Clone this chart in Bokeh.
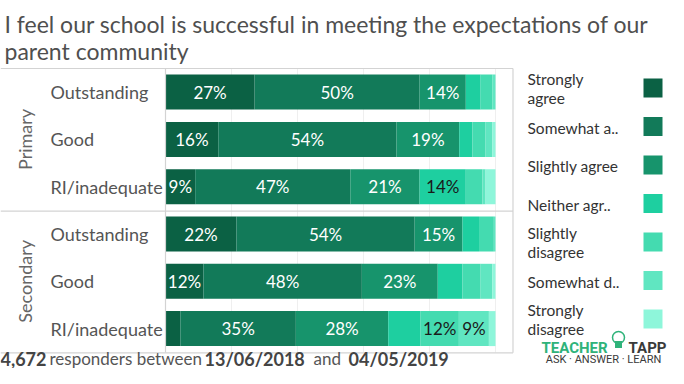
import numpy as np
from bokeh.plotting import figure
from bokeh.models import Range1d
from bokeh.core.properties import value
from bokeh.embed import file_html
from bokeh.resources import INLINE

# ---------------- data ----------------
title_lines = ["I feel our school is successful in meeting the expectations of our",
               "parent community"]
groups = ["Primary", "Secondary"]
ratings = ["Outstanding", "Good", "RI/inadequate"]
responses = ["Strongly agree", "Somewhat agree", "Slightly agree",
             "Neither agree nor disagree", "Slightly disagree",
             "Somewhat disagree", "Strongly disagree"]
legend_text = [["Strongly", "agree"], ["Somewhat a.."], ["Slightly agree"],
               ["Neither agr.."], ["Slightly", "disagree"], ["Somewhat d.."],
               ["Strongly", "disagree"]]

# rows: Primary Outstanding, Good, RI/inadequate, Secondary Outstanding, Good, RI/inadequate
strongly_agree    = [27.0, 16.0,  9.0, 21.5, 11.5,  4.5]
somewhat_agree    = [50.0, 54.0, 47.0, 54.0, 48.0, 35.0]
slightly_agree    = [14.0, 19.0, 21.0, 14.5, 23.0, 28.0]
neither           = [ 4.5,  4.0, 14.0,  5.0,  7.5,  9.8]
slightly_disagree = [ 3.5,  4.0,  5.0,  4.5,  5.5, 11.6]
somewhat_disagree = [ 1.0,  2.0,  1.0,  0.5,  3.5,  9.1]
strongly_disagree = [ 0.0,  1.0,  3.0,  0.0,  1.0,  2.0]
series = [strongly_agree, somewhat_agree, slightly_agree, neither,
          slightly_disagree, somewhat_disagree, strongly_disagree]

min_label = 9
hidden_labels = [(5, 3)]  # (row, response) labels the original dropped

grid_ticks = [20, 40, 60, 80, 100]

footer_parts = [("4,672", "bold"), ("responders between", "normal"),
                ("13/06/2018", "bold"), ("and", "normal"), ("04/05/2019", "bold")]

# ---------------- style ----------------
colors = ["#0b6144", "#127a59", "#17946c", "#1ecfa0", "#44dbb0", "#60e6c1", "#8ef6da"]
label_colors = ["#ffffff"] * 3 + ["#1a1a1a"] * 4
FONT = value("Lato")
LOGO_FONT = value("Roboto")

W, H = 668, 368
FX0, FXS = 165.0, 3.3    # screen x of 0%, px per %
RY0, RYS = 91.6, 47.3    # screen y of first row centre, px per row


def X(sx):
    return (sx - FX0) / FXS


def Y(sy):
    return (sy - RY0) / RYS


p = figure(width=W, height=H, output_backend="svg", toolbar_location=None,
           x_range=Range1d(X(0), X(W)), y_range=Range1d(Y(H), Y(0)),
           min_border=0)
p.axis.visible = False
p.grid.visible = False
p.outline_line_color = None
p.background_fill_color = "white"
p.border_fill_color = "white"

# light grid lines
p.segment(x0=grid_ticks, x1=grid_ticks, y0=[Y(68)] * len(grid_ticks),
          y1=[Y(352)] * len(grid_ticks), line_color="#efefef", line_width=1)

# stacked bars
n = len(strongly_agree)
rows_idx = np.arange(n)
left = np.zeros(n)
lab_x, lab_y, lab_t, lab_c = [], [], [], []
for k, vals in enumerate(series):
    vals = np.array(vals)
    right = left + vals
    p.hbar(y=rows_idx, left=left, right=right, height=35 / RYS,
           fill_color=colors[k], line_color=None)
    for r in range(n):
        if vals[r] >= min_label and (r, k) not in hidden_labels:
            lab_x.append((left[r] + right[r]) / 2)
            lab_y.append(r)
            lab_t.append(f"{int(vals[r] + 0.5)}%")
            lab_c.append(label_colors[k])
    left = right

p.text(x=lab_x, y=lab_y, text=lab_t, text_color=lab_c, text_font=FONT,
       text_font_size="17px", text_align="center", text_baseline="middle")

# frame lines
line_c = "#d3d3d3"
p.segment(x0=[X(0), X(0), X(0), X(165), X(512.5)],
          x1=[X(512.5), X(512.5), X(512.5), X(165), X(512.5)],
          y0=[Y(68), Y(210.7), Y(352.3), Y(68), Y(68)],
          y1=[Y(68), Y(210.7), Y(352.3), Y(352.3), Y(352.3)],
          line_color=line_c, line_width=1.2)

# row labels
row_names = ratings * len(groups)
p.text(x=[X(50)] * n, y=list(rows_idx), text=row_names, text_font=FONT,
       text_font_size="18px", text_color="#555555", text_align="left",
       text_baseline="middle")
# group labels
p.text(x=[X(24)] * 2, y=[1, 4], text=groups, text_font=FONT, text_font_size="18px",
       text_color="#666666", text_align="center", text_baseline="middle",
       angle=np.pi / 2)

# title
for i, t in enumerate(title_lines):
    p.text(x=[X(4)], y=[Y(23 + 27 * i)], text=[t], text_font=FONT,
           text_font_size="23px", text_color="#4f4f4f", text_align="left",
           text_baseline="alphabetic")

# legend
for i, lines in enumerate(legend_text):
    cy = 87.5 + 38.5 * i
    p.scatter(x=[X(652.5)], y=[Y(cy)], marker="square", size=19,
              fill_color=colors[i], line_color=None)
    if len(lines) == 1:
        ys = [cy + 1]
    else:
        ys = [cy - 9.3, cy + 9.5]
    p.text(x=[X(527)] * len(lines), y=[Y(v) for v in ys], text=lines,
           text_font=FONT, text_font_size="15.5px", text_color="#333333",
           text_align="left", text_baseline="middle")

# footer
fx = [0, 49, 204, 313, 348]
for (t, w), x0 in zip(footer_parts, fx):
    p.text(x=[X(x0)], y=[Y(358)], text=[t], text_font=FONT,
           text_font_size="18px" if w == "bold" else "17px",
           text_font_style=w, text_color="#444444" if w == "bold" else "#555555",
           text_align="left", text_baseline="middle")

# logo
p.text(x=[X(541)], y=[Y(347)], text=["TEACHER"], text_font=LOGO_FONT,
       text_font_size="15px", text_font_style="bold", text_color="#2fb37a",
       text_align="left", text_baseline="alphabetic")
p.text(x=[X(666)], y=[Y(347)], text=["TAPP"], text_font=LOGO_FONT,
       text_font_size="15px", text_font_style="bold", text_color="#3a3a3a",
       text_align="right", text_baseline="alphabetic")
p.scatter(x=[X(618)], y=[Y(337)], marker="circle", size=[12, 6],
          fill_color=None, line_color="#2fb37a", line_width=1.5)
p.scatter(x=[X(618)], y=[Y(344)], marker="square", size=7,
          fill_color="#2fb37a", line_color=None)
p.text(x=[X(603)], y=[Y(359)], text=["ASK · ANSWER · LEARN"], text_font=LOGO_FONT,
       text_font_size="11px", text_color="#3a3a3a", text_align="center",
       text_baseline="middle")

open("out.html", "w").write(file_html(p, INLINE))
